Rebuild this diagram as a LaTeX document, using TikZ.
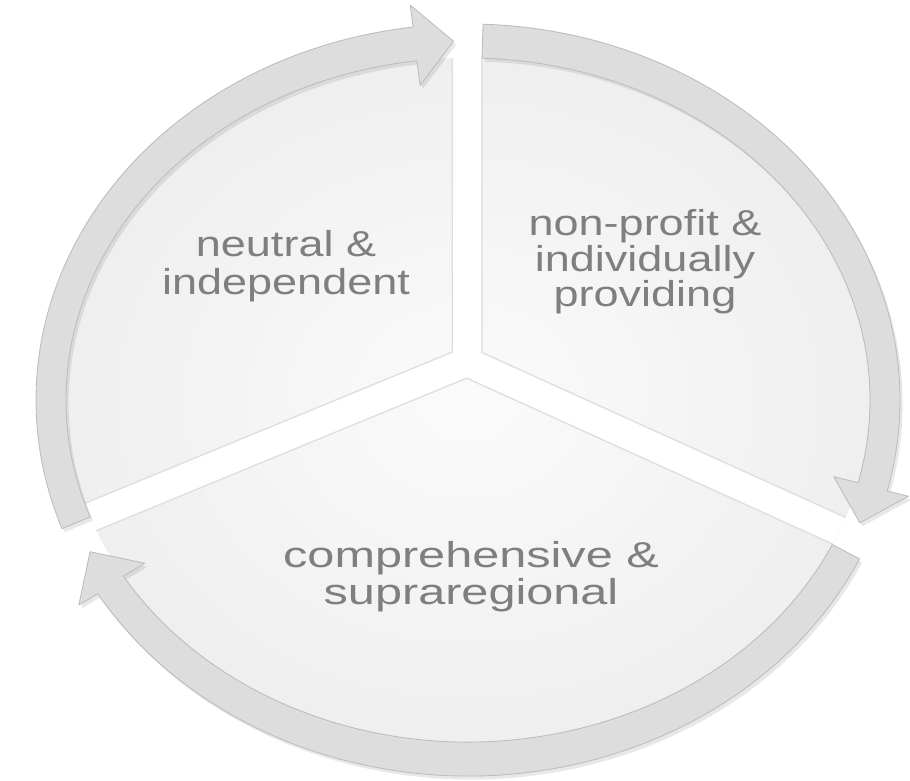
\documentclass[tikz,border=0pt]{standalone}
\usepackage{fontspec}
\setmainfont{Liberation Sans}
\usetikzlibrary{calc,shadows}

\definecolor{ringfill}{HTML}{DDDDDD}
\definecolor{ringline}{HTML}{BDBDBD}
\definecolor{piefill}{HTML}{EFEFEF}
\definecolor{piecentre}{HTML}{FBFBFB}
\definecolor{labelgray}{HTML}{7F7F7F}

\begin{document}
\begin{tikzpicture}[x=0.02cm, y=-0.02cm,
  ring/.style={fill=ringfill, draw=ringline, line width=0.5pt, line join=round,
    drop shadow={shadow xshift=1.5pt, shadow yshift=-2pt, opacity=0.18}},
  gapedge/.style={draw=gray!25, line width=0.62cm, line cap=round},
  gapfill/.style={draw=white, line width=0.56cm, line cap=round},
  seglabel/.style={text=labelgray, align=center, inner sep=0pt}]

\useasboundingbox (0,0) rectangle (910,781);

% ======================================
% THE PIE
% ======================================
\coordinate (c) at (468,400);
\coordinate (hub) at (467,362);
\coordinate (gapN) at (467,0);
\coordinate (gapSW) at (-315,684);
\coordinate (gapSE) at (1239,712);

\shade[inner color=piecentre, outer color=piefill] (c) ellipse [x radius=402, y radius=342];

\begin{scope}
\clip (c) ellipse [x radius=402, y radius=342];
\draw[gapedge] (hub) -- (gapN) (hub) -- (gapSW) (hub) -- (gapSE);
\draw[gapfill] (hub) -- (gapN) (hub) -- (gapSW) (hub) -- (gapSE);
\end{scope}

% ======================================
% RING 1: LEFT, UP TO THE TOP
% ======================================
\draw[ring] ($(c)+(160:402 and 342)$) arc[start angle=160, end angle=262.7, x radius=402, y radius=342]
  -- ($(c)+(262.7:377 and 317)$) -- ($(c)+(268:417 and 359)$) -- ($(c)+(262.7:454 and 398)$)
  -- ($(c)+(262.7:432 and 376)$) arc[start angle=262.7, end angle=160, x radius=432, y radius=376] -- cycle;

% ======================================
% RING 2: TOP, DOWN TO THE RIGHT
% ======================================
\draw[ring] ($(c)+(-88:402 and 342)$) arc[start angle=-88, end angle=14, x radius=402, y radius=342]
  -- ($(c)+(14:377 and 317)$) -- ($(c)+(20:417 and 359)$) -- ($(c)+(14:454 and 398)$)
  -- ($(c)+(14:432 and 376)$) arc[start angle=14, end angle=-88, x radius=432, y radius=376] -- cycle;

% ======================================
% RING 3: BOTTOM, ROUND TO THE LEFT
% ======================================
\draw[ring] ($(c)+(25:402 and 342)$) arc[start angle=25, end angle=149, x radius=402, y radius=342]
  -- ($(c)+(149:377 and 317)$) -- ($(c)+(155:417 and 359)$) -- ($(c)+(149:454 and 398)$)
  -- ($(c)+(149:432 and 376)$) arc[start angle=149, end angle=25, x radius=432, y radius=376] -- cycle;

% ======================================
% LABELS
% ======================================
\node[seglabel, xscale=1.25, font=\fontsize{20.5}{21.6}\selectfont] (neutral) at (286,266) {neutral \&\\independent};
\node[seglabel, xscale=1.25, font=\fontsize{20.5}{19}\selectfont] (nonprofit) at (645,262) {non-profit \&\\individually\\providing};
\node[seglabel, xscale=1.35, font=\fontsize{20.5}{21}\selectfont] (comprehensive) at (471,577) {comprehensive \&\\supraregional};

\end{tikzpicture}
\end{document}
